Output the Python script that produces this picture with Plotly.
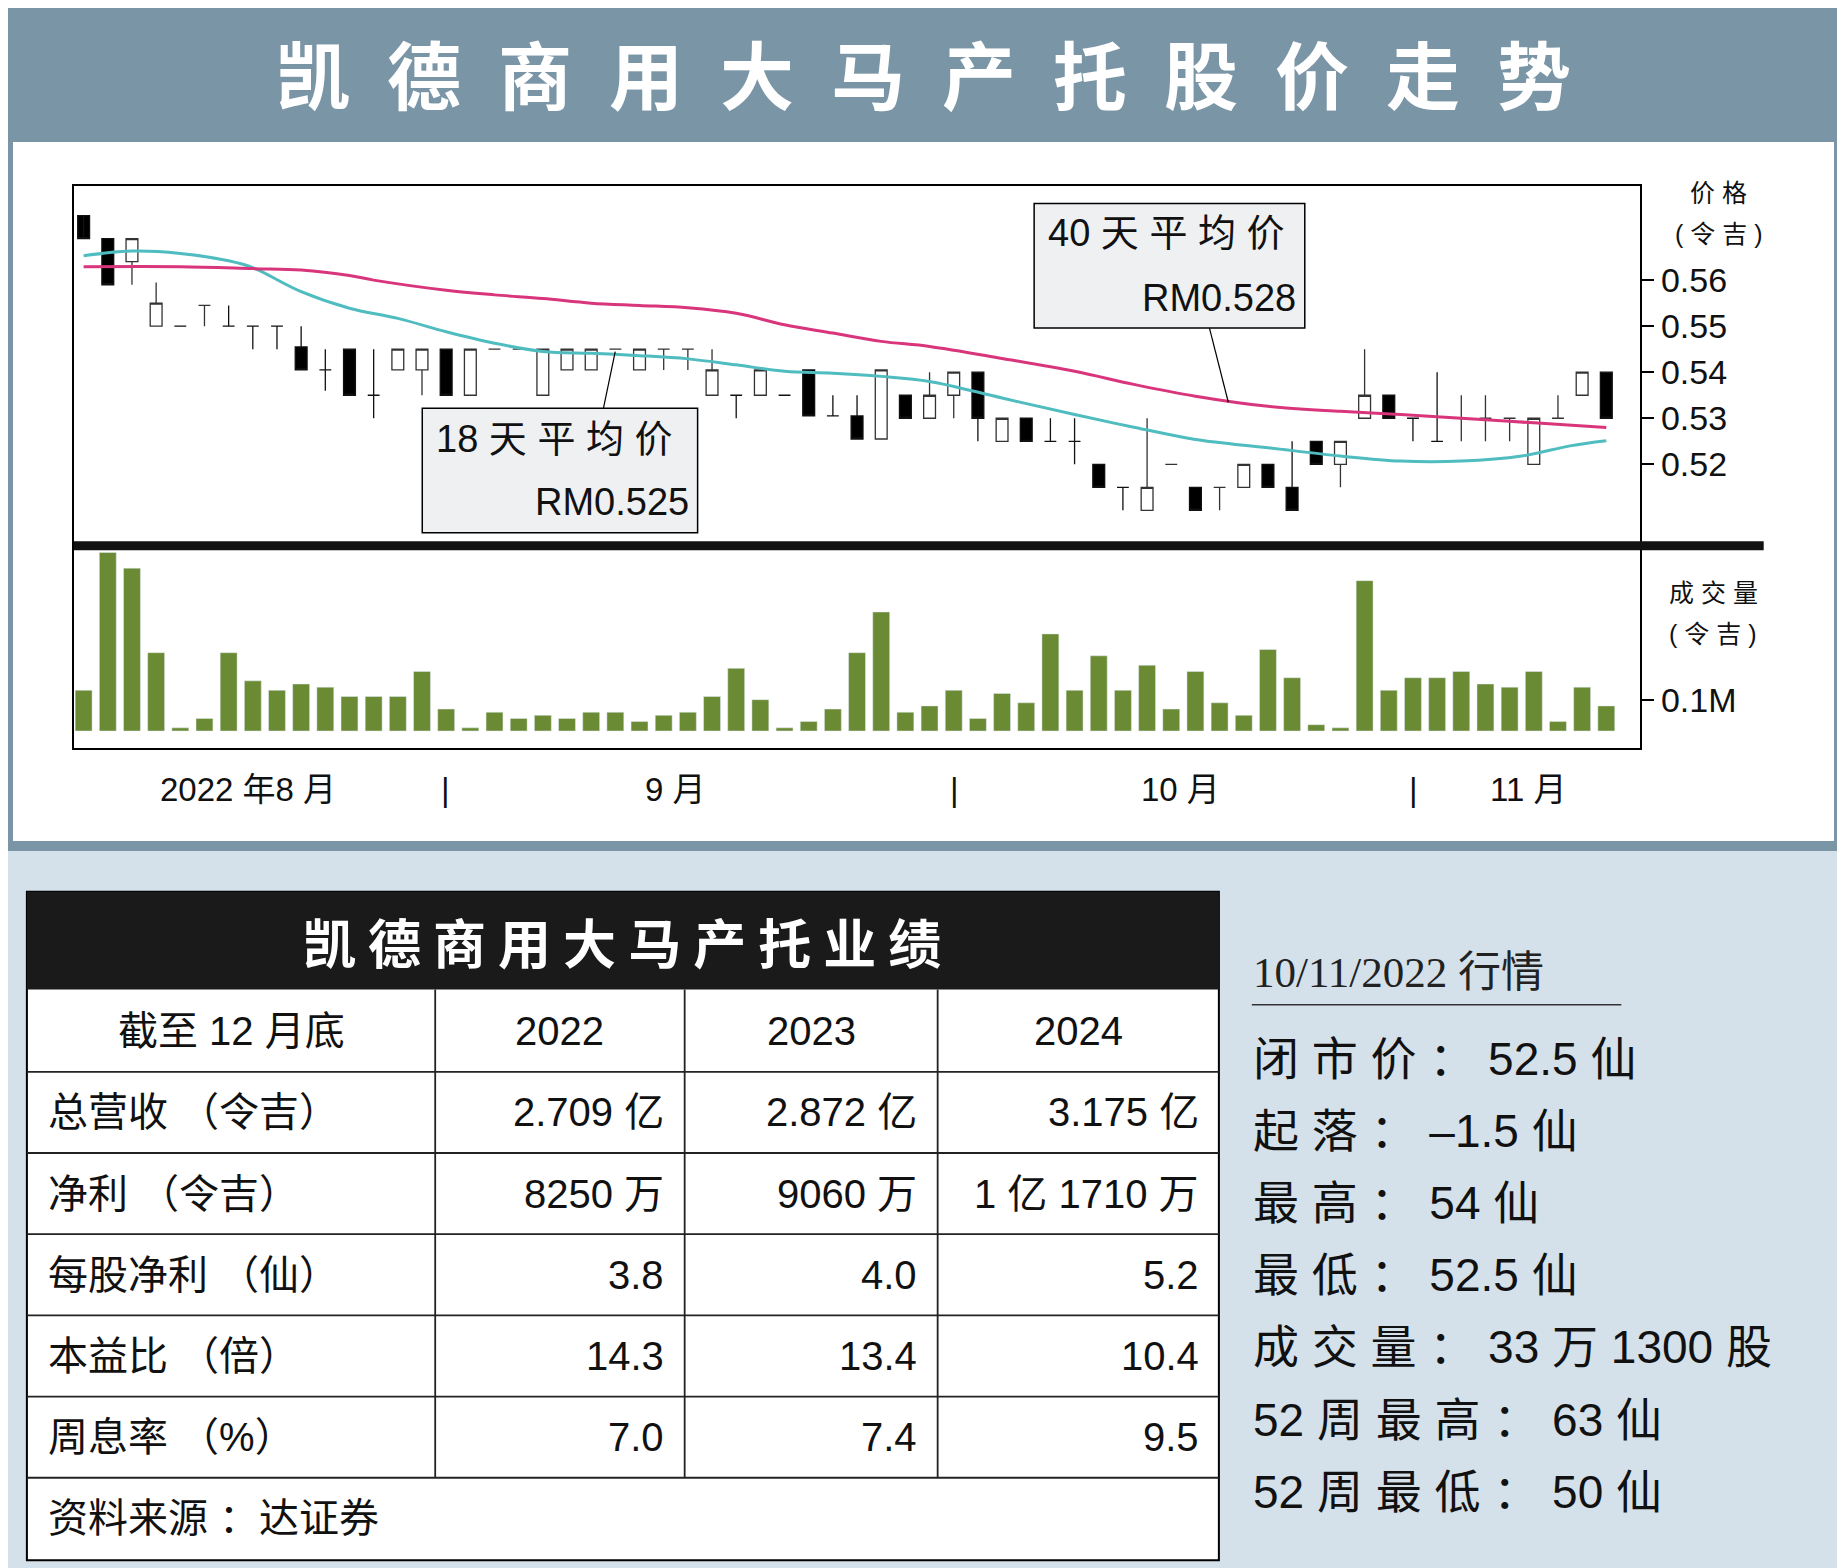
import plotly.graph_objects as go

W, H = 1845, 1568
def X(p): return p / W
def Y(p): return 1 - p / H

# ---- data ----
opens  = [.574,.569,.564,.550,.550,.5545,.550,.550,.550,.5455,.5405,.545,.535,.5405,.5405,.545,.535,.545,.545,.535,
          .5405,.5405,.545,.5405,.545,.545,.535,.535,.535,.535,.5405,.5305,.5305,.5255,
          .535,.530,.535,.540,.525,.530,.525,.525,.520,.515,.510,.520,.515,.515,.515,.520,.515,.525,.520,.530,.535,.530,.525,.530,.530,.530,.520,.530,.535,.540]
closes = [.569,.559,.569,.555,.550,.5545,.550,.550,.550,.5405,.5405,.535,.535,.545,.545,.535,.545,.545,.545,.545,
          .545,.545,.545,.545,.545,.545,.5405,.535,.5405,.535,.5305,.5305,.5255,.5405,
          .530,.535,.540,.530,.530,.525,.525,.525,.515,.515,.515,.520,.510,.515,.520,.515,.510,.520,.525,.535,.530,.530,.525,.530,.530,.530,.530,.530,.540,.530]
highs  = [.574,.569,.569,.5595,.550,.5545,.5545,.550,.550,.550,.545,.545,.545,.545,.545,.545,.545,.545,.545,.545,
          .545,.545,.545,.545,.545,.545,.545,.535,.5405,.535,.5405,.535,.535,.5405,
          .535,.540,.540,.540,.530,.530,.530,.530,.520,.515,.530,.520,.515,.515,.520,.520,.525,.525,.525,.545,.535,.530,.540,.535,.535,.530,.530,.535,.540,.540]
lows   = [.574,.559,.559,.550,.550,.550,.550,.545,.545,.5405,.536,.535,.530,.5405,.535,.535,.535,.545,.545,.535,
          .5405,.5405,.545,.5405,.5405,.5405,.535,.530,.535,.535,.5305,.5305,.5255,.5255,
          .530,.530,.530,.525,.525,.525,.525,.520,.515,.510,.510,.520,.510,.510,.515,.515,.510,.520,.515,.530,.530,.525,.525,.525,.525,.525,.520,.530,.535,.530]
volume = [.13,.57,.52,.25,.01,.04,.25,.16,.13,.15,.14,.11,.11,.11,.19,.07,.01,.06,.04,.05,.04,.06,.06,.03,.05,.06,.11,.20,.10,.01,
          .03,.07,.25,.38,.06,.08,.13,.04,.12,.09,.31,.13,.24,.13,.21,.07,.19,.09,.05,.26,.17,.02,.01,.48,.13,.17,.17,.19,.15,.14,.19,.03,.14,.08]
ma18_x = [0,2,4,6,7,9,11,13,15,17,19,21,23,25,27,29,31,33,35,38,41,43.5,46,49,52,54.5,57,59.5,61.5,63]
ma18_y = [.5653,.5663,.5658,.5642,.5627,.5575,.5539,.5517,.5488,.5463,.5445,.5441,.5436,.5429,.5416,.5402,.5398,.5391,.538,.5344,.5308,.528,.5254,.5236,.5218,.5207,.5207,.5218,.524,.5251]
ma40_x = [0,4,7,9,11,12,15,17,19,21,23,25,27,29,31,33,35,38,41,43.5,46,49,52,54.5,57,60,63]
ma40_y = [.5629,.5629,.5625,.5622,.561,.560,.5578,.5568,.556,.555,.5545,.554,.5528,.5503,.5485,.5467,.5456,.543,.5402,.5373,.5348,.5326,.5315,.5308,.530,.529,.528]
price_ticks = [0.52,0.53,0.54,0.55,0.56]
months = [("2022 年8 月",210),("9 月",573),("10 月",1002),("11 月",1298)]
seps = [378,810,1200]
tbl_cols = ["截至 12 月底","2022","2023","2024"]
tbl_labels = ["总营收 （令吉）","净利 （令吉）","每股净利 （仙）","本益比 （倍）","周息率 （%）"]
tbl_2022 = ["2.709 亿","8250 万","3.8","14.3","7.0"]
tbl_2023 = ["2.872 亿","9060 万","4.0","13.4","7.4"]
tbl_2024 = ["3.175 亿","1 亿 1710 万","5.2","10.4","9.5"]
stats = ["闭 市 价 ： 52.5 仙","起 落 ： –1.5 仙","最 高 ： 54 仙","最 低 ： 52.5 仙",
         "成 交 量 ： 33 万 1300 股","52 周 最 高 ： 63 仙","52 周 最 低 ： 50 仙"]

F = "Liberation Sans, Noto Sans CJK SC"
BLUE = "#7a95a5"
s = 1.1767  # displayed->real
OX, OY = -7, -7  # compensate page offset

fig = go.Figure()
idx = list(range(len(opens)))
fig.add_trace(go.Candlestick(x=idx, open=opens, high=highs, low=lows, close=closes,
    increasing=dict(line=dict(color="#333", width=1.3), fillcolor="white"),
    decreasing=dict(line=dict(color="#111", width=1.3), fillcolor="black"),
    whiskerwidth=0, xaxis="x", yaxis="y", showlegend=False))
fig.add_trace(go.Scatter(x=ma18_x, y=ma18_y, mode="lines", line=dict(color="#4fbcc0", width=3, shape="spline"),
    xaxis="x", yaxis="y", showlegend=False))
fig.add_trace(go.Scatter(x=ma40_x, y=ma40_y, mode="lines", line=dict(color="#d9357c", width=3, shape="spline"),
    xaxis="x", yaxis="y", showlegend=False))
fig.add_trace(go.Bar(x=idx, y=volume, marker_color="#6a8a33", width=0.7, xaxis="x2", yaxis="y2", showlegend=False))

def PX(v): return X(v + OX)
def PY(v): return Y(v + OY)
xd = [PX(62*s), PX(1393*s)]
fig.update_layout(
    width=W, height=H, margin=dict(l=0, r=0, t=0, b=0),
    paper_bgcolor="#d4e1ea", plot_bgcolor="#f9fafb",
    xaxis=dict(domain=xd, range=[-0.4, 64.4], showticklabels=False, showgrid=False, zeroline=False,
               rangeslider=dict(visible=False), anchor="y", showline=True, mirror=True, linecolor="black", linewidth=2),
    yaxis=dict(domain=[PY(463*s), PY(157*s)], range=[0.5023, 0.5805], side="right", tickvals=price_ticks,
               ticktext=["0.52","0.53","0.54","0.55","0.56"], ticks="outside", ticklen=12, tickwidth=2,
               tickcolor="black", showgrid=False, zeroline=False, anchor="x",
               tickfont=dict(family=F, size=34, color="#111"), showline=True, mirror=True, linecolor="black", linewidth=2),
    xaxis2=dict(domain=xd, range=[-0.4, 64.4], showticklabels=False, showgrid=False, zeroline=False, anchor="y2",
                showline=True, mirror=True, linecolor="black", linewidth=2),
    yaxis2=dict(domain=[PY(635*s), PY(466*s)], range=[-0.055, 0.58], side="right", tickvals=[0.1], ticktext=["0.1M"],
                ticks="outside", ticklen=12, tickwidth=2, tickcolor="black", showgrid=False, zeroline=False,
                anchor="x2", tickfont=dict(family=F, size=34, color="#111"),
                showline=True, mirror=True, linecolor="black", linewidth=2),
    bargap=0.3,
)

shapes = []
def rect(x0, y0, x1, y1, fill, line=None, lw=0, layer="below"):
    shapes.append(dict(type="rect", xref="paper", yref="paper", x0=PX(x0), x1=PX(x1), y0=PY(y1), y1=PY(y0),
                       fillcolor=fill, line=dict(color=line or fill, width=lw), layer=layer))
def line(x0, y0, x1, y1, color="black", w=2):
    shapes.append(dict(type="line", xref="paper", yref="paper", x0=PX(x0), x1=PX(x1), y0=PY(y0), y1=PY(y1),
                       line=dict(color=color, width=w), layer="above"))

rect(-20, -20, W + 20, 850, BLUE)
rect(12, 141, 1833, 840, "white")
line(62*s, 463*s, 1498*s, 463*s, "#111", 9)
rect(878*s, 172*s, 1108*s, 278*s, "#eef0f2", "black", 1.5, "above")
line(1027*s, 278*s, 1043*s, 341*s, "black", 1.2)
rect(358*s, 346*s, 592*s, 452*s, "#eef0f2", "black", 1.5, "above")
line(512*s, 346*s, 522*s, 298*s, "black", 1.2)
T0, T1 = 22*s, 1035*s
rows = [757, 840, 910, 979, 1048, 1117, 1186, 1255, 1325]
rect(T0, rows[0]*s, T1, rows[-1]*s, "white", "black", 2)
rect(T0, rows[0]*s, T1, rows[1]*s, "#1a1a1a")
for r in rows[2:-1]:
    line(T0, r*s, T1, r*s, "#222", 1.8)
cols = [369, 581, 796]
for c in cols:
    line(c*s, rows[1]*s, c*s, rows[7]*s, "#222", 1.8)
line(1063*s, 853*s, 1377*s, 853*s, "#333", 1.5)
fig.update_layout(shapes=shapes)

ann = []
def txt(x, y, t, size, color="#111", anchor="left", bold=False, fam=F):
    ann.append(dict(xref="paper", yref="paper", x=PX(x), y=PY(y), text=f"<b>{t}</b>" if bold else t,
                    showarrow=False, xanchor=anchor, yanchor="middle", font=dict(family=fam, size=size, color=color)))

txt(784*s, 60*s, "\u2002".join("凯德商用大马产托股价走势"), 74, "white", "center", True, "Noto Sans CJK SC")
txt(888*s, 197*s, "40 天 平 均 价", 38)
txt(1102*s, 252*s, "RM0.528", 38, anchor="right")
txt(368*s, 372*s, "18 天 平 均 价", 38)
txt(586*s, 426*s, "RM0.525", 38, anchor="right")
txt(1460*s, 163*s, "价 格", 25, anchor="center")
txt(1460*s, 198*s, "( 令 吉 )", 25, anchor="center")
txt(1455*s, 503*s, "成 交 量", 25, anchor="center")
txt(1455*s, 538*s, "( 令 吉 )", 25, anchor="center")
for t, xx in months:
    txt(xx*s, 670*s, t, 33, anchor="center")
for xx in seps:
    txt(xx*s, 670*s, "|", 33, anchor="center")
txt(528*s, 799*s, " ".join("凯德商用大马产托业绩"), 53, "white", "center", True, "Noto Sans CJK SC")
centers = [(22+369)/2, (369+581)/2, (581+796)/2, (796+1035)/2]
for c, t in zip(centers, tbl_cols):
    txt(c*s, 875*s, t, 40, anchor="center")
for i in range(5):
    yy = (rows[2+i] + rows[3+i]) / 2 * s
    txt(38*s, yy, tbl_labels[i], 40)
    txt(565*s, yy, tbl_2022[i], 40, anchor="right")
    txt(780*s, yy, tbl_2023[i], 40, anchor="right")
    txt(1020*s, yy, tbl_2024[i], 40, anchor="right")
txt(38*s, 1289*s, "资料来源 ：达证券", 40)
txt(1062*s, 826*s, "10/11/2022 行情", 43, "#222", fam="Liberation Serif, Noto Sans CJK SC")
for i, t in enumerate(stats):
    txt(1062*s, (899 + i*61.3)*s, t, 46)
fig.update_layout(annotations=ann)
fig.write_html("out.html")
